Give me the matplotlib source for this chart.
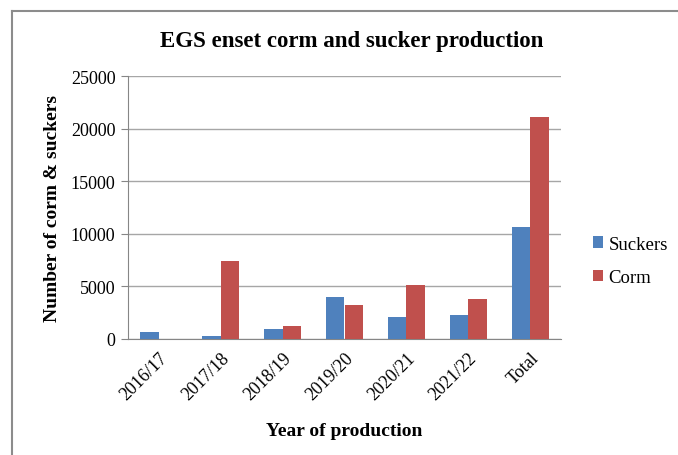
import matplotlib
matplotlib.use("Agg")
import matplotlib.pyplot as plt
from matplotlib.lines import Line2D
import numpy as np

categories = ["2016/17", "2017/18", "2018/19", "2019/20", "2020/21", "2021/22", "Total"]
suckers = [700, 290, 990, 3950, 2130, 2290, 10600]
corm = [0, 7450, 1240, 3270, 5170, 3800, 21100]
yticks = [0, 5000, 10000, 15000, 20000, 25000]

plt.rcParams['font.family'] = ['Liberation Serif', 'DejaVu Serif']

fig = plt.figure(figsize=(6.78, 4.56), dpi=100)
ax = fig.add_axes([128/678, 1-340/456, (561-128)/678, (340-77)/456])

x = np.arange(len(categories))
w = 0.30
ax.bar(x - w/2, suckers, w, color="#4F81BD", label="Suckers", zorder=3)
ax.bar(x + w/2, corm, w, color="#C0504D", label="Corm", zorder=3)

ax.set_xlim(-0.5, len(categories) - 0.5)
ax.set_ylim(0, 25000)
ax.set_yticks(yticks)
ax.set_yticklabels([str(v) for v in yticks], fontsize=13)
ax.set_xticks(x)
ax.set_xticklabels(categories, rotation=45, ha="right", rotation_mode="anchor", fontsize=13)
ax.tick_params(axis="x", length=0, pad=7)
ax.tick_params(axis="y", length=5, color="#868686", direction="out", pad=4)
ax.grid(axis="y", color="#A6A6A6", linewidth=1, zorder=0)
for s in ["top", "right"]:
    ax.spines[s].set_visible(False)
ax.spines["left"].set_color("#868686")
ax.spines["bottom"].set_color("#868686")

fig.text(352/678, 1-42/456, "EGS enset corm and sucker production", fontsize=16.5,
         fontweight="bold", ha="center", va="center")
ax.set_xlabel("Year of production", fontsize=14, fontweight="bold", labelpad=14)
ax.set_ylabel("Number of corm & suckers", fontsize=14, fontweight="bold", labelpad=7)

leg = fig.legend(loc="center left", bbox_to_anchor=(585/678, 1-262/456), frameon=False,
                 fontsize=13.5, handlelength=0.55, handleheight=0.55, handletextpad=0.3,
                 labelspacing=0.9, borderaxespad=0)

fig.add_artist(Line2D([12/678, 12/678], [0, 1-12/456], color="#8C8C8C", linewidth=1.5, transform=fig.transFigure))
fig.add_artist(Line2D([12/678, 1], [1-12/456, 1-12/456], color="#8C8C8C", linewidth=1.5, transform=fig.transFigure))

fig.savefig("out.png", dpi=100)
